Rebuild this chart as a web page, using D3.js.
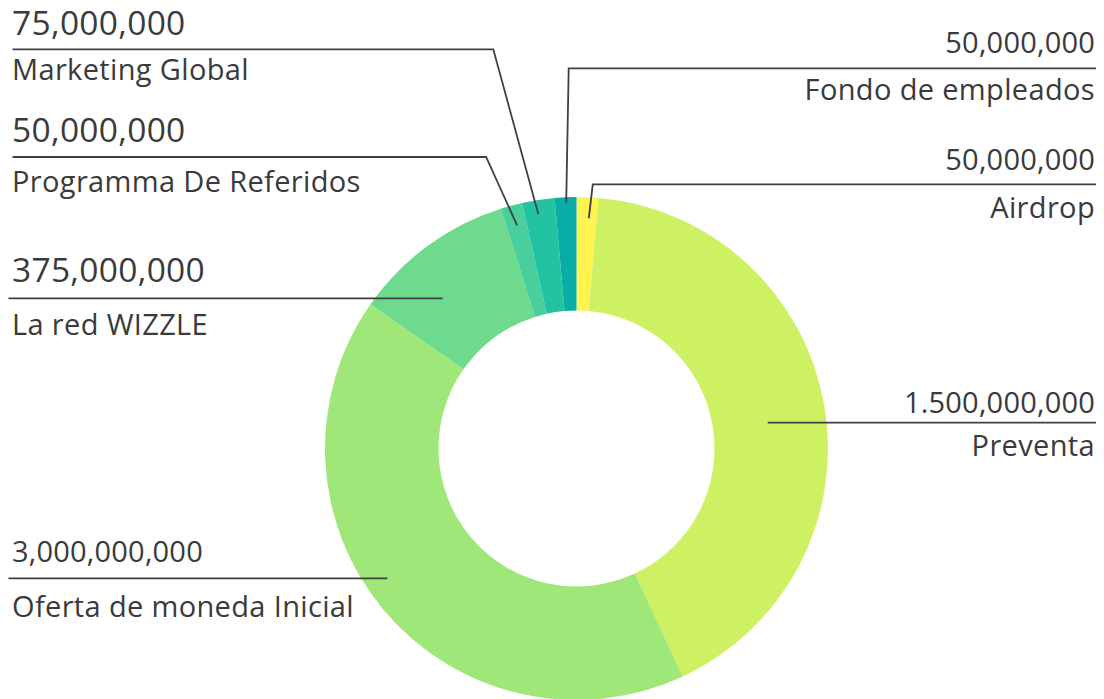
<!DOCTYPE html>
<html>
<head>
<meta charset="utf-8">
<script src="https://cdn.jsdelivr.net/npm/d3@7"></script>
<style>
  html, body { margin: 0; padding: 0; background: #ffffff; }
  svg { display: block; }
  text { font-family: "Open Sans", sans-serif; fill: #3a3a3c; }
</style>
</head>
<body>
<svg id="chart" width="1104" height="699"></svg>
<script>
// ---- data ----
const categories = ["Airdrop", "Preventa", "Oferta de moneda Inicial", "La red WIZZLE",
                    "Programma De Referidos", "Marketing Global", "Fondo de empleados"];
// slice sizes as drawn in the picture (millions)
const sliceValues = [50, 1500, 1500, 375, 50, 75, 50];
// amounts printed in the labels
const labelValues = ["50,000,000", "1.500,000,000", "3,000,000,000", "375,000,000",
                     "50,000,000", "75,000,000", "50,000,000"];
const colors = ["#fff44f", "#cef063", "#9fe778", "#6eda8d", "#48cf9b", "#22c3a2", "#08ada6"];

// ---- layout (styling, not data) ----
const W = 1104, H = 699;
const cx = 576.5, cy = 448.5, rOuter = 251.5, rInner = 138;
const layout = [
  { side: "right", vy: 170,   ly: 184.3, ny: 218,   vfs: 29,   t: 0.61,  r: 230.5, elbow: 4 },
  { side: "right", vy: 413.3, ly: 422.7, ny: 456,   vfs: 29,   t: 0.515, r: 193,   elbow: null },
  { side: "left",  vy: 561.7, ly: 578.3, ny: 616.7, vfs: 29,   t: 0.537, r: 229.5, elbow: null, lx: 8.5 },
  { side: "left",  vy: 281.7, ly: 298.3, ny: 335,   vfs: 33.5, t: 0.352, r: 201,   elbow: null, lx: 8.5 },
  { side: "left",  vy: 141.7, ly: 157,   ny: 191.7, vfs: 33.5, t: 0.52,  r: 231,   elbow: -31, lx: 12.5 },
  { side: "left",  vy: 35,    ly: 49.3,  ny: 80,    vfs: 33.5, t: 0.433, r: 237.6, elbow: -45, lx: 12.5 },
  { side: "right", vy: 53.3,  ly: 68.3,  ny: 100,   vfs: 29,   t: 0.52,  r: 246,   elbow: 2.5 }
];
const nameFs = 29;
const leftX = 12, rightX = 1095, rightLineX = 1096;

const svg = d3.select("#chart");
const g = svg.append("g").attr("transform", `translate(${cx},${cy})`);

const pie = d3.pie().sort(null).value(d => d.v).startAngle(0).endAngle(2 * Math.PI);
const rows = categories.map((c, i) => ({ name: c, v: sliceValues[i], label: labelValues[i], color: colors[i], lay: layout[i] }));
const arcs = pie(rows);

const arc = d3.arc().innerRadius(rInner).outerRadius(rOuter);

g.selectAll("path.slice")
  .data(arcs)
  .join("path")
  .attr("class", "slice")
  .attr("d", arc)
  .attr("fill", d => d.data.color);

// leader lines
const lines = svg.append("g");
arcs.forEach(d => {
  const L = d.data.lay;
  const a = d.startAngle + L.t * (d.endAngle - d.startAngle);
  const p = d3.arc().innerRadius(L.r).outerRadius(L.r).startAngle(a).endAngle(a).centroid();
  const ax = cx + p[0], ay = cy + p[1];
  let pts;
  if (L.elbow === null) {
    pts = L.side === "left" ? [[L.lx, L.ly], [ax, L.ly]] : [[ax, L.ly], [rightLineX, L.ly]];
  } else {
    const ex = ax + L.elbow;
    pts = L.side === "left"
      ? [[L.lx, L.ly], [ex, L.ly], [ax, ay]]
      : [[rightLineX, L.ly], [ex, L.ly], [ax, ay]];
  }
  lines.append("path")
    .attr("d", d3.line()(pts))
    .attr("fill", "none")
    .attr("stroke", "#404042")
    .attr("stroke-width", 1.8);
});

// labels
const labels = svg.append("g");
arcs.forEach(d => {
  const L = d.data.lay;
  const x = L.side === "left" ? leftX : rightX;
  const anchor = L.side === "left" ? "start" : "end";
  labels.append("text")
    .attr("x", x).attr("y", L.vy)
    .attr("text-anchor", anchor)
    .attr("font-size", L.vfs)
    .attr("letter-spacing", L.vfs > 30 ? 0.3 : 0.2)
    .text(d.data.label);
  labels.append("text")
    .attr("x", x).attr("y", L.ny)
    .attr("text-anchor", anchor)
    .attr("font-size", nameFs)
    .attr("letter-spacing", 0.35)
    .text(d.data.name);
});
</script>
</body>
</html>
